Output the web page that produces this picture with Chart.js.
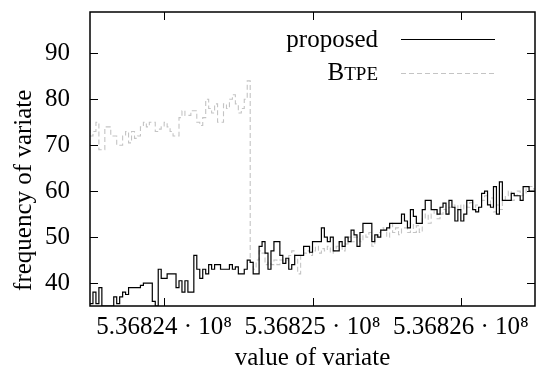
<!DOCTYPE html>
<html>
<head>
<meta charset="utf-8">
<script src="https://cdn.jsdelivr.net/npm/chart.js@4.4.1/dist/chart.umd.min.js"></script>
<style>
  html, body { margin: 0; padding: 0; background: #fff; }
  #wrap { width: 538px; height: 375px; }
</style>
</head>
<body>
<div id="wrap"><canvas id="myChart" width="538" height="375"></canvas></div>
<script>
// histogram bins: left edge of first bin and bin width
var binStart = 536823500;
var binWidth = 20;

var proposed = [
    35.5, 38, 35.5, 39, 35, 35, 35, 35, 37, 35.5,
    37, 38, 37.5, 39, 39, 39, 39, 39.5, 40, 40,
    40, 36, 35, 43, 41, 41, 42, 42, 42, 39,
    40.5, 38, 40.5, 38, 38, 46, 43, 41, 43, 42,
    44, 43, 44, 44, 43, 43, 43, 44, 43, 43.5,
    42, 42, 43, 45, 44.5, 42, 42, 48, 49, 46.5,
    43, 47, 49, 49, 46, 44.3, 45.4, 43, 44, 46,
    46, 46, 48, 48, 46.7, 49, 49, 49, 52, 50,
    49, 50, 47, 47, 49, 48, 50, 49, 51.5, 50.5,
    48, 51, 53, 53, 53, 49, 50.5, 50, 51.5, 51.5,
    52, 53, 53, 53, 53, 55, 53.5, 52, 56, 54.5,
    53, 53, 56, 58, 58, 56, 56, 55, 56.5, 57.4,
    55, 58, 56.5, 53.5, 56, 53.5, 55, 58, 58, 56,
    55.5, 56.5, 59.5, 60, 57, 56.5, 61, 55, 62, 58,
    58, 58, 59.5, 59, 59, 58, 61, 61, 60, 60
];

var btpe = [
    72, 73, 75, 69, 69, 74, 74, 72, 72, 70,
    70, 72, 73, 70.5, 73, 71.5, 72, 74, 75, 74,
    75, 75, 73, 73.5, 74, 75, 74, 73, 72, 72,
    76, 77.5, 76.5, 76.5, 77.5, 77.5, 75, 74.3, 76, 80,
    78, 77, 79, 75, 75, 79, 78, 80, 81, 79,
    77, 78, 80, 84, 44.5, 43, 45, 47, 46.5, 44,
    44.5, 44, 45, 44, 45, 44.5, 45, 46, 47, 46,
    42, 46, 46.5, 47, 46, 47, 48, 46.5, 47.5, 47,
    48, 46.5, 47, 48, 49, 47, 48.5, 50, 49, 50,
    50, 49, 50.5, 50, 51, 48, 50, 51, 52, 51.5,
    50, 53, 51, 52, 50.5, 52, 52, 51, 53, 51,
    52.5, 51, 54, 55, 53, 55, 56, 54, 55, 56,
    55, 56.5, 57, 56, 57, 56, 57, 56.5, 57.5, 56,
    57, 56.5, 58, 59, 57, 58.5, 55.5, 57, 56, 58,
    59, 60, 58, 59, 60, 59, 59.5, 60.5, 61, 60.5
];

var xTicks = [536824000, 536825000, 536826000];
var yTicks = [40, 50, 60, 70, 80, 90];
var xRange = [536823500, 536826500];
var yRange = [35, 99];

var serif = "'Liberation Serif', 'DejaVu Serif', serif";

// each bin as a step starting at its left edge, plus a closing point at the right edge
var toSteps = function (vals) {
    var pts = vals.map(function (v, i) {
        return { x: binStart + i * binWidth, y: v };
    });
    pts.push({ x: binStart + vals.length * binWidth, y: vals[vals.length - 1] });
    return pts;
};

// frame with inward ticks on all four sides, like gnuplot
var framePlugin = {
    id: 'frame',
    afterDatasetsDraw: function (chart) {
        var ctx = chart.ctx;
        var a = chart.chartArea;
        var xs = chart.scales.x, ys = chart.scales.y;
        var len = 8;
        ctx.save();
        ctx.strokeStyle = '#000';
        ctx.lineWidth = 1;
        ctx.beginPath();
        xs.ticks.forEach(function (t) {
            var px = Math.round(xs.getPixelForValue(t.value)) + 0.5;
            ctx.moveTo(px, a.bottom); ctx.lineTo(px, a.bottom - len);
            ctx.moveTo(px, a.top); ctx.lineTo(px, a.top + len);
        });
        ys.ticks.forEach(function (t) {
            var py = Math.round(ys.getPixelForValue(t.value)) + 0.5;
            ctx.moveTo(a.left, py); ctx.lineTo(a.left + len, py);
            ctx.moveTo(a.right, py); ctx.lineTo(a.right - len, py);
        });
        ctx.stroke();
        ctx.lineWidth = 1.5;
        ctx.strokeRect(a.left, a.top, a.right - a.left, a.bottom - a.top);
        ctx.restore();
    }
};

// key in the upper right: label text, then a line sample
var keyPlugin = {
    id: 'key',
    afterDatasetsDraw: function (chart) {
        var ctx = chart.ctx;
        var a = chart.chartArea;
        var sampleEnd = a.right - 40;
        var sampleLen = 94;
        var textRight = sampleEnd - sampleLen - 23;
        ctx.save();
        chart.data.datasets.forEach(function (ds, i) {
            var y = a.top + 27 + i * 34;
            ctx.beginPath();
            ctx.strokeStyle = ds.borderColor;
            ctx.lineWidth = ds.borderWidth;
            ctx.setLineDash(ds.borderDash || []);
            ctx.moveTo(sampleEnd - sampleLen, y + 0.5);
            ctx.lineTo(sampleEnd, y + 0.5);
            ctx.stroke();
            ctx.fillStyle = '#000';
            ctx.textBaseline = 'alphabetic';
            ctx.textAlign = 'left';
            if (ds.smallCaps) {
                var big = '25px ' + serif, small = '19px ' + serif;
                var first = ds.label.charAt(0), rest = ds.label.slice(1);
                ctx.font = big;
                var w1 = ctx.measureText(first).width;
                ctx.font = small;
                var w2 = ctx.measureText(rest).width;
                var x0 = textRight - w1 - w2;
                ctx.font = big;
                ctx.fillText(first, x0, y + 7);
                ctx.font = small;
                ctx.fillText(rest, x0 + w1, y + 7);
            } else {
                ctx.font = '25px ' + serif;
                ctx.textAlign = 'right';
                ctx.fillText(ds.label, textRight, y + 8);
            }
        });
        ctx.restore();
    }
};

const data = {
    datasets: [
        {
            label: 'proposed',
            data: toSteps(proposed),
            borderColor: '#000',
            borderWidth: 1.2,
            stepped: true,
            pointRadius: 0,
            fill: false,
            order: 0
        },
        {
            label: 'BTPE',
            smallCaps: true,
            data: toSteps(btpe),
            borderColor: '#c4c4c4',
            borderWidth: 1.1,
            borderDash: [5, 3],
            stepped: true,
            pointRadius: 0,
            fill: false,
            order: 1
        }
    ]
};

const config = {
    type: 'line',
    data: data,
    options: {
        responsive: false,
        animation: false,
        layout: { padding: { left: 0, right: 3, top: 12, bottom: 0 } },
        plugins: {
            legend: { display: false },
            tooltip: { enabled: false }
        },
        scales: {
            x: {
                type: 'linear',
                min: xRange[0],
                max: xRange[1],
                grid: { display: false },
                border: { display: false },
                afterBuildTicks: function (s) {
                    s.ticks = xTicks.map(function (v) { return { value: v }; });
                },
                afterFit: function (s) {
                    s.height = 69;
                    s.paddingLeft = 0;
                    s.paddingRight = 0;
                },
                ticks: {
                    color: '#000',
                    padding: -2,
                    maxRotation: 0,
                    font: { family: serif, size: 25 },
                    callback: function (v) {
                        return (v / 1e8).toFixed(5) + ' \u00b7 10\u2078';
                    }
                },
                title: {
                    display: true,
                    text: 'value of variate',
                    color: '#000',
                    font: { family: serif, size: 25 },
                    padding: { top: 0, bottom: 2 }
                }
            },
            y: {
                min: yRange[0],
                max: yRange[1],
                grid: { display: false },
                border: { display: false },
                afterBuildTicks: function (s) {
                    s.ticks = yTicks.map(function (v) { return { value: v }; });
                },
                afterFit: function (s) {
                    s.width = 90;
                    s.paddingTop = 0;
                    s.paddingBottom = 0;
                },
                ticks: {
                    color: '#000',
                    padding: 12,
                    font: { family: serif, size: 25 }
                },
                title: {
                    display: true,
                    // trailing spaces push the label down a little, as in the original
                    text: 'frequency of variate\u00a0\u00a0\u00a0\u00a0\u00a0\u00a0\u00a0\u00a0\u00a0\u00a0',
                    color: '#000',
                    font: { family: serif, size: 25 },
                    padding: { top: 9, bottom: 0 }
                }
            }
        }
    },
    plugins: [framePlugin, keyPlugin]
};

const myChart = new Chart(document.getElementById('myChart'), config);
</script>
</body>
</html>
